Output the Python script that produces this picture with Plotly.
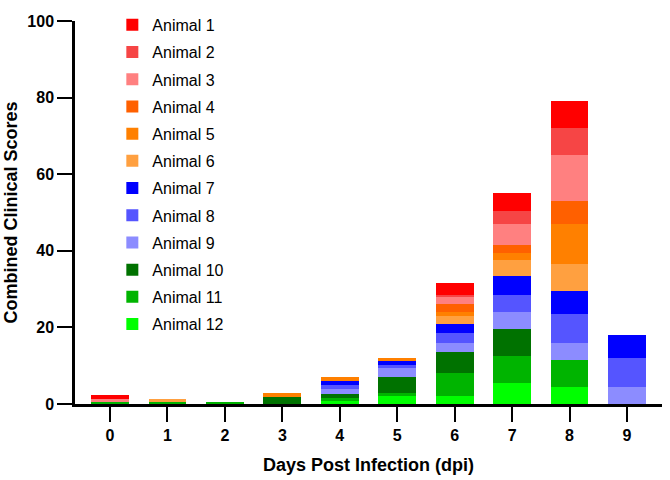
import plotly.graph_objects as go

# days post infection (x categories)
days = ["0", "1", "2", "3", "4", "5", "6", "7", "8", "9"]

# clinical score per animal, per day
animal_1 = [1, 0, 0, 0, 0, 0, 3, 4.5, 7, 0]
animal_2 = [0, 0, 0, 0, 0, 0, 0.5, 3.5, 7, 0]
animal_3 = [0.5, 0, 0, 0, 0, 0, 2, 5.5, 12, 0]
animal_4 = [0, 0, 0, 0, 0, 0, 2, 2, 6, 0]
animal_5 = [0, 0, 0, 1, 1, 0.75, 1, 2, 10.5, 0]
animal_6 = [0, 0.5, 0, 0, 0, 0, 2, 4, 7, 0]
animal_7 = [0, 0, 0, 0, 1, 1, 2.5, 5, 6, 6]
animal_8 = [0, 0, 0, 0, 1, 0.75, 2.5, 4.5, 7.5, 7.5]
animal_9 = [0, 0, 0, 0, 1.5, 2.5, 2.5, 4.5, 4.5, 4.5]
animal_10 = [0, 0, 0, 1.75, 1, 4, 5.5, 7, 0, 0]
animal_11 = [0.75, 0.75, 0.3, 0, 0.5, 1, 6, 7, 7, 0]
animal_12 = [0, 0, 0, 0, 1, 2, 2, 5.5, 4.5, 0]

names = ["Animal %d" % i for i in range(1, 13)]
series = [animal_1, animal_2, animal_3, animal_4, animal_5, animal_6,
          animal_7, animal_8, animal_9, animal_10, animal_11, animal_12]
colors = ["#FF0000", "#F64545", "#FF8080", "#FF6000", "#FF8000", "#FFA040",
          "#0000FF", "#5555FF", "#8C8CFF", "#007200", "#00B400", "#00FF00"]

fig = go.Figure()
# animal 12 at the bottom of the stack, animal 1 on top;
# legendrank keeps Animal 1 first in the legend
for rank, (name, vals, col) in reversed(list(enumerate(zip(names, series, colors), 1))):
    fig.add_trace(go.Bar(x=days, y=vals, name=name, legendgroup=name,
                         legendrank=rank,
                         marker=dict(color=col, line=dict(width=0))))

fig.update_layout(
    barmode="stack",
    bargap=0.34,
    width=670, height=480,
    margin=dict(l=75, r=8, t=8, b=76),
    plot_bgcolor="white", paper_bgcolor="white",
    font=dict(family="Liberation Sans, Arial", color="black"),
    showlegend=True,
    # one group per animal so tracegroupgap spreads the rows out
    legend=dict(traceorder="grouped", tracegroupgap=3.4,
                x=0.0636, y=0.162, xanchor="left", yanchor="bottom",
                font=dict(family="Liberation Sans, Arial", size=16, color="black"),
                bgcolor="rgba(0,0,0,0)"),
)
fig.update_xaxes(
    type="category", range=[-0.61, 9.61], automargin=False,
    showline=True, linecolor="black", linewidth=2.5,
    ticks="outside", ticklen=15, tickwidth=2, tickcolor="black",
    tickfont=dict(family="Liberation Sans, Arial", size=16, color="black", weight="bold"),
    title=dict(text="<b>Days Post Infection (dpi)</b>", font=dict(size=18), standoff=16),
    showgrid=False, zeroline=False,
)
fig.update_yaxes(
    range=[0, 100], tickvals=[0, 20, 40, 60, 80, 100], automargin=False,
    ticklabeloverflow="allow",
    showline=True, linecolor="black", linewidth=2.5,
    ticks="outside", ticklen=15, tickwidth=2, tickcolor="black",
    tickfont=dict(family="Liberation Sans, Arial", size=16, color="black", weight="bold"),
    title=dict(text="<b>Combined Clinical Scores</b>", font=dict(size=18), standoff=6),
    showgrid=False, zeroline=False,
)

# page body has a default 8px margin; drop it so the chart sits at 0,0
fig.write_html("out.html", config={"displayModeBar": False},
               post_script="document.body.style.margin='0';")
